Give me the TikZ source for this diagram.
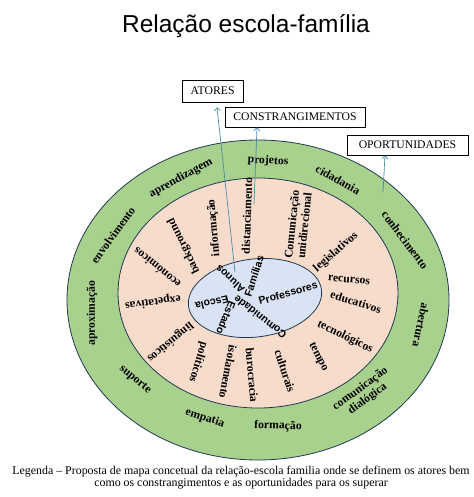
\documentclass[tikz,border=0pt]{standalone}
\usepackage{fontspec}
\setmainfont{Liberation Serif}
\setsansfont{Liberation Sans}
\usetikzlibrary{arrows.meta}
\definecolor{verdeanel}{RGB}{169,209,142}
\definecolor{rosaanel}{RGB}{248,220,203}
\definecolor{azulnucleo}{RGB}{218,227,243}
\definecolor{contorno}{RGB}{32,56,80}
\definecolor{azulseta}{RGB}{75,140,165}
\tikzset{xy/.style={x={#1},y={-#1},line width=.8pt}}
\tikzset{
  palavra/.style={font=\bfseries\fontsize{11.7}{12.5}\selectfont,inner sep=0pt,align=center},
  actor/.style={font=\sffamily\bfseries\fontsize{10.5}{12}\selectfont,inner sep=0pt},
  caixa/.style={draw=black,line width=.6pt,fill=white,font=\fontsize{11.7}{13}\selectfont,inner sep=0pt,minimum height=20pt},
  ligacao/.style={draw=azulseta,line width=.7pt,-{Straight Barb[length=3pt,width=6pt]}},
}

\begin{document}
\begin{tikzpicture}[xy=1pt]%
    \path [use as bounding box] (0,0) rectangle (473,497);
    \path (246,33) node [anchor=base,font=\sffamily\fontsize{24.5}{28}\selectfont,inner sep=0pt] (titulo) {Relação escola-família};

    % aneis
    \path [fill=verdeanel, draw=contorno] (258,300) ellipse [x radius=191, y radius=160];
    \path [fill=rosaanel, draw=contorno] (258,293) ellipse [x radius=140, y radius=115];
    \path [fill=azulnucleo, draw=contorno, rotate around={7:(255,298)}] (255,298) ellipse [x radius=67, y radius=39];

    % oportunidades
    \path (181,178) node [palavra, rotate=29] (aprendizagem) {aprendizagem};
    \path (113,235) node [palavra, rotate=54] (envolvimento) {envolvimento};
    \path (92,313) node [palavra, rotate=90] (aproximacao) {aproximação};
    \path (135,380) node [palavra, rotate=-40] (suporte) {suporte};
    \path (205,418) node [palavra, rotate=-18] (empatia) {empatia};
    \path (278,426) node [palavra, rotate=-2] (formacao) {formação};
    \path (364,394) node [palavra, rotate=36] (dialogica) {comunicação\\dialógica};
    \path (421,325) node [palavra, rotate=-102] (abertura) {abertura};
    \path (405,240) node [palavra, rotate=-53] (conhecimento) {conhecimento};
    \path (338,180) node [palavra, rotate=-29] (cidadania) {cidadania};
    \path (268,161) node [palavra, rotate=-3] (projetos) {projetos};

    % constrangimentos
    \path (214,228) node [palavra, rotate=95] (informacao) {informação};
    \path (184,246) node [palavra, rotate=116] (background) {background};
    \path (157,268) node [palavra, rotate=141] (economicos) {económicos};
    \path (153,302) node [palavra, rotate=188] (expetativas) {expetativas};
    \path (170,342) node [palavra, rotate=220] (linguisticos) {linguísticos};
    \path (198,362) node [palavra, rotate=253] (politicos) {políticos};
    \path (228,372) node [palavra, rotate=259] (isolamento) {isolamento};
    \path (252,375) node [palavra, rotate=275] (burocracia) {burocracia};
    \path (285,371) node [palavra, rotate=288] (culturais) {culturais};
    \path (318,357) node [palavra, rotate=297] (tempo) {tempo};
    \path (345,337) node [palavra, rotate=-26] (tecnologicos) {tecnológicos};
    \path (356,302) node [palavra, rotate=-18] (educativos) {educativos};
    \path (349,280) node [palavra, rotate=-5] (recursos) {recursos};
    \path (336,252) node [palavra, rotate=41] (legislativos) {legislativos};
    \path (298,225) node [palavra, rotate=84] (unidirecional) {Comunicação\\unidirecional};
    \path (247,216) node [palavra, rotate=88] (distanciamento) {distanciamento};

    % atores
    \path (230,279) node [actor, rotate=137] (alunos) {Alunos};
    \path (254,276) node [actor, rotate=72] (familias) {Famílias};
    \path (288,293) node [actor, rotate=16] (professores) {Professores};
    \path (260,317) node [actor, rotate=142] (comunidade) {Comunidade};
    \path (226,318) node [actor, rotate=248] (estado) {Estado};
    \path (212,303) node [actor, rotate=193] (escola) {Escola};

    % caixas e setas
    \path (212.5,91) node [caixa, minimum width=61pt, minimum height=22pt] (atores) {ATORES};
    \path (295,117) node [caixa, minimum width=140pt] (constr) {CONSTRANGIMENTOS};
    \path (407.5,145) node [caixa, minimum width=121pt] (oport) {OPORTUNIDADES};
    \path (235,272) coordinate (pe-atores);
    \path (254,204) coordinate (pe-constr);
    \path (383,192) coordinate (pe-oport);
    \path [ligacao] (pe-atores) -- ([xshift=4.5pt,yshift=-5pt]atores.south);
    \path [ligacao] (pe-constr) -- ([xshift=-38pt]constr.south);
    \path [ligacao] (pe-oport) -- ([xshift=-22.5pt]oport.south);

    \path (241,478) node [align=center,font=\fontsize{11.9}{12}\selectfont,inner sep=0pt] (legenda) {Legenda – Proposta de mapa concetual da relação-escola familia onde se definem os atores bem\\como os constrangimentos e as oportunidades para os superar};
\end{tikzpicture}
\end{document}
